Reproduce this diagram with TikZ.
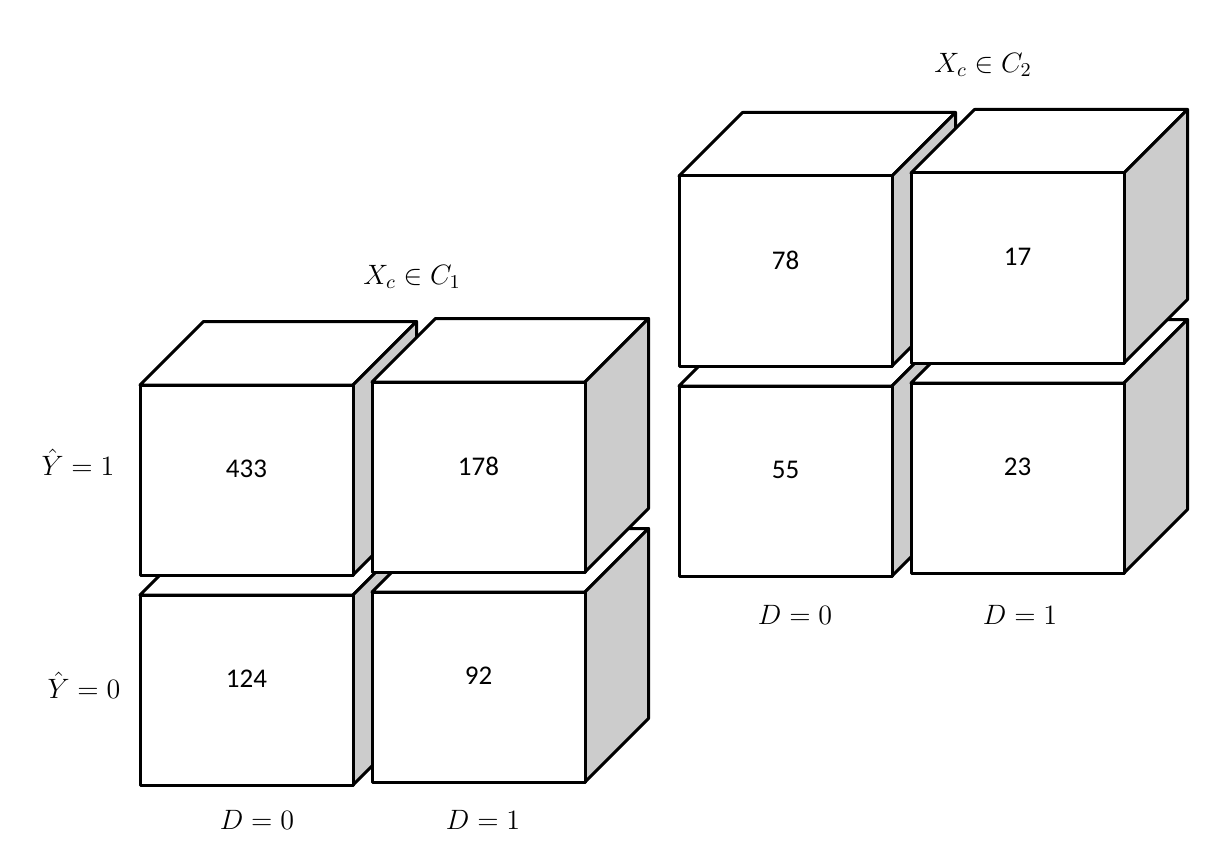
\RequirePackage{fix-cm}
\documentclass[tikz,border=0pt]{standalone}
\usepackage{fontspec}
\setmainfont{Carlito}
\definecolor{sidegray}{RGB}{204,204,204}
\begin{document}
\begin{tikzpicture}[x=0.5pt,y=-0.5pt, line width=1.5pt, line join=round,
  face/.style={draw=black, fill=white},
  sideface/.style={draw=black, fill=sidegray},
  num/.style={font=\fontsize{13.5}{16}\selectfont, inner sep=0pt},
  lab/.style={font=\fontsize{14}{16}\selectfont, inner sep=0pt},
  cube/.pic={
    \path[face] (0,0) -- (63.5,-63.5) -- (276.5,-63.5) -- (213,0) -- cycle;
    \path[sideface] (213,0) -- (276.5,-63.5) -- (276.5,126.5) -- (213,190) -- cycle;
    \path[face] (0,0) rectangle (213,190);
  }]
\useasboundingbox[fill=white] (0,0) rectangle (1231,861);

% Group C1
\pic (lbl) at (140,595) {cube};
\pic (lbr) at (372,592) {cube};
\pic (ltl) at (140,385) {cube};
\pic (ltr) at (372,382) {cube};
\node[num] (n433) at (246.5,469) {433};
\node[num] (n178) at (478.5,466) {178};
\node[num] (n124) at (246.5,679) {124};
\node[num] (n92)  at (478.5,676) {92};

% Group C2
\pic (rbl) at (679,386) {cube};
\pic (rbr) at (911,383) {cube};
\pic (rtl) at (679,176) {cube};
\pic (rtr) at (911,173) {cube};
\node[num] (n78) at (785.5,260) {78};
\node[num] (n17) at (1017.5,257) {17};
\node[num] (n55) at (785.5,470) {55};
\node[num] (n23) at (1017.5,467) {23};

% Labels
\node[lab] (c1) at (412,277) {$X_c \in C_1$};
\node[lab] (c2) at (983,65) {$X_c \in C_2$};
\node[lab] (y1) at (78,462) {$\hat{Y}=1$};
\node[lab] (y0) at (84,685) {$\hat{Y}=0$};
\node[lab] (ld0) at (257,820) {$D=0$};
\node[lab] (ld1) at (483,820) {$D=1$};
\node[lab] (rd0) at (795,615) {$D=0$};
\node[lab] (rd1) at (1020,615) {$D=1$};
\end{tikzpicture}
\end{document}
